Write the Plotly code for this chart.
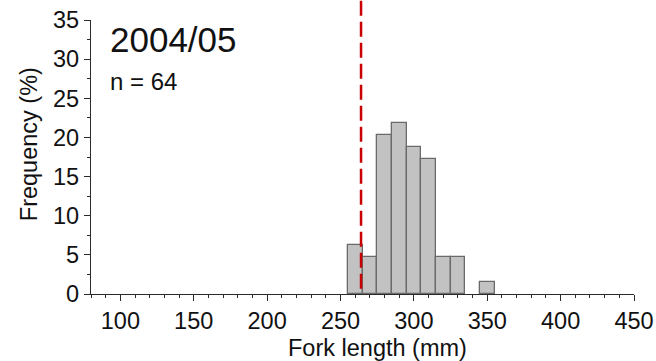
import plotly.graph_objects as go

bin_centers = [260, 270, 280, 290, 300, 310, 320, 330, 350]
frequency = [6.25, 4.69, 20.31, 21.88, 18.75, 17.19, 4.69, 4.69, 1.56]
bin_width = 10
mean_line = 264
title_text = "2004/05"
n_text = "n = 64"
x_title = "Fork length (mm)"
y_title = "Frequency (%)"
x_ticks = [100, 150, 200, 250, 300, 350, 400, 450]
y_ticks = [0, 5, 10, 15, 20, 25, 30, 35]

font = "Liberation Sans, Arial, sans-serif"
axis_col = "#2a2a2a"
txt_col = "#111111"
fs = 23.5

fig = go.Figure()
fig.add_trace(go.Bar(
    x=bin_centers, y=frequency, width=[bin_width] * len(bin_centers),
    marker=dict(color="#c2c2c2", line=dict(color="#6a6a6a", width=1.3)),
    hoverinfo="skip",
))
fig.add_shape(type="line", xref="x", yref="paper", x0=mean_line, x1=mean_line, y0=1.07, y1=0,
              line=dict(color="#c80000", width=2.5, dash="15px,6px"))
fig.add_annotation(xref="paper", yref="paper", x=0.031, y=0.929, xanchor="left", yanchor="middle",
                   text=title_text, showarrow=False, font=dict(family=font, size=35, color=txt_col))
fig.add_annotation(xref="paper", yref="paper", x=0.031, y=0.777, xanchor="left", yanchor="middle",
                   text=n_text, showarrow=False, font=dict(family=font, size=24, color=txt_col))
fig.add_annotation(xref="paper", yref="paper", x=0.5276, y=-0.197, xanchor="center", yanchor="middle",
                   text=x_title, showarrow=False, font=dict(family=font, size=fs, color=txt_col))
fig.add_annotation(xref="paper", yref="paper", x=-0.114, y=0.547, xanchor="center", yanchor="middle",
                   text=y_title, textangle=-90, showarrow=False, font=dict(family=font, size=fs, color=txt_col))

fig.update_layout(
    width=656, height=361,
    margin=dict(l=91, r=22, t=20, b=67),
    paper_bgcolor="white", plot_bgcolor="white",
    showlegend=False, bargap=0,
    font=dict(family=font, size=fs, color=txt_col),
    xaxis=dict(range=[80, 450], tickvals=x_ticks, ticks="outside", ticklen=6, tickwidth=1.3,
               tickcolor=axis_col, showline=True, linecolor=axis_col, linewidth=1.3,
               showgrid=False, zeroline=False, automargin=False, ticklabeloverflow="allow",
               minor=dict(dtick=10, tick0=0, ticks="outside", ticklen=3, tickcolor=axis_col, showgrid=False),
               tickfont=dict(size=fs)),
    yaxis=dict(range=[0, 35], tickvals=y_ticks, ticks="outside", ticklen=6, tickwidth=1.3,
               tickcolor=axis_col, showline=True, linecolor=axis_col, linewidth=1.3,
               showgrid=False, zeroline=False, automargin=False, ticklabeloverflow="allow",
               minor=dict(dtick=2.5, tick0=0, ticks="outside", ticklen=3, tickcolor=axis_col, showgrid=False),
               tickfont=dict(size=fs)),
)
fig.write_html("out.html", config={"displayModeBar": False},
               post_script="document.body.style.margin='0px';document.body.style.overflow='hidden';")
